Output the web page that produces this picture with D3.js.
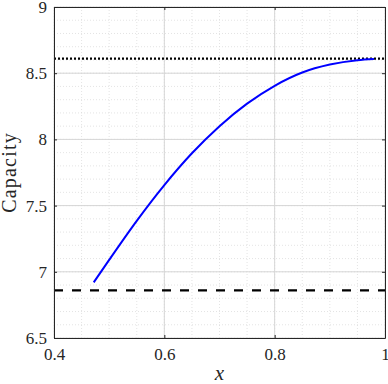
<!DOCTYPE html>
<html>
<head>
<meta charset="utf-8">
<script src="https://cdn.jsdelivr.net/npm/d3@7"></script>
<style>
    body { margin: 0; background: #fff; }
    #chart { width: 388px; height: 384px; }
    .tick text { font-family: "Liberation Serif", serif; font-size: 17px; fill: #262626; }
    .lbl { font-family: "Liberation Serif", serif; fill: #262626; }
</style>
</head>
<body>
<div id="chart"></div>
<script>
// values
const xValues  = [0.472, 0.5, 0.55, 0.6, 0.65, 0.7, 0.75, 0.8, 0.85, 0.9, 0.95, 0.98];
const capacity = [6.92, 7.09, 7.385, 7.655, 7.895, 8.10, 8.27, 8.405, 8.505, 8.565, 8.598, 8.607];
const upperBound = 8.61;   // dotted
const lowerBound = 6.86;   // dashed
const xTicks = [0.4, 0.6, 0.8, 1];
const yTicks = [6.5, 7, 7.5, 8, 8.5, 9];
const xMinor = d3.range(0.4, 1.0001, 0.05);
const yMinor = d3.range(6.5, 9.0001, 0.1);

const w = 388, h = 384;
const margin = { top: 7, right: 3, bottom: 46, left: 54 };

const svg = d3.select("#chart").append("svg")
    .attr("width", w)
    .attr("height", h);

const x = d3.scaleLinear().domain([0.4, 1]).range([margin.left, w - margin.right]);
const y = d3.scaleLinear().domain([6.5, 9]).range([h - margin.bottom, margin.top]);

const fmt = d3.format("~g");

// GRID - minor dotted
const grid = svg.append("g");
grid.selectAll(".xminor").data(xMinor).enter().append("line")
    .attr("x1", d => x(d)).attr("x2", d => x(d))
    .attr("y1", y(6.5)).attr("y2", y(9))
    .style("stroke", "#d9d9d9").style("stroke-width", 0.7)
    .style("stroke-dasharray", "1,2");
grid.selectAll(".yminor").data(yMinor).enter().append("line")
    .attr("y1", d => y(d)).attr("y2", d => y(d))
    .attr("x1", x(0.4)).attr("x2", x(1))
    .style("stroke", "#d9d9d9").style("stroke-width", 0.7)
    .style("stroke-dasharray", "1,2");

// GRID - major
grid.selectAll(".xmajor").data(xTicks).enter().append("line")
    .attr("x1", d => x(d)).attr("x2", d => x(d))
    .attr("y1", y(6.5)).attr("y2", y(9))
    .style("stroke", "#d6d6d6").style("stroke-width", 1);
grid.selectAll(".ymajor").data(yTicks).enter().append("line")
    .attr("y1", d => y(d)).attr("y2", d => y(d))
    .attr("x1", x(0.4)).attr("x2", x(1))
    .style("stroke", "#d6d6d6").style("stroke-width", 1);

// BOUNDS
svg.append("line")
    .attr("x1", x(0.4)).attr("x2", x(1))
    .attr("y1", y(upperBound)).attr("y2", y(upperBound))
    .style("stroke", "#000").style("stroke-width", 2.2)
    .style("stroke-dasharray", "2,2");
svg.append("line")
    .attr("x1", x(0.4)).attr("x2", x(1))
    .attr("y1", y(lowerBound)).attr("y2", y(lowerBound))
    .style("stroke", "#000").style("stroke-width", 2.2)
    .style("stroke-dasharray", "9,9");

// CURVE
const line = d3.line()
    .x((d, i) => x(xValues[i]))
    .y(d => y(d))
    .curve(d3.curveMonotoneX);
svg.append("path")
    .datum(capacity)
    .attr("d", line)
    .style("fill", "none")
    .style("stroke", "#0000ff")
    .style("stroke-width", 2);

// AXES (ticks inside, box on)
const axisColor = "#262626";
const xAxis = svg.append("g")
    .attr("transform", "translate(0," + y(6.5) + ")")
    .call(d3.axisBottom(x).tickValues(xTicks).tickFormat(fmt).tickSizeInner(-3).tickSizeOuter(0).tickPadding(10));
const yAxis = svg.append("g")
    .attr("transform", "translate(" + x(0.4) + ",0)")
    .call(d3.axisLeft(y).tickValues(yTicks).tickFormat(fmt).tickSizeInner(-3).tickSizeOuter(0).tickPadding(7));
const xTop = svg.append("g")
    .attr("transform", "translate(0," + y(9) + ")")
    .call(d3.axisTop(x).tickValues(xTicks).tickFormat("").tickSizeInner(-3).tickSizeOuter(0));
const yRight = svg.append("g")
    .attr("transform", "translate(" + x(1) + ",0)")
    .call(d3.axisRight(y).tickValues(yTicks).tickFormat("").tickSizeInner(-3).tickSizeOuter(0));

[xAxis, yAxis, xTop, yRight].forEach(a => {
    a.select(".domain").style("stroke", axisColor).style("stroke-width", 1);
    a.selectAll(".tick line").style("stroke", axisColor);
});

// AXES LABELS
svg.append("text")
    .attr("class", "lbl")
    .text("x")
    .style("font-style", "italic")
    .style("font-size", "21px")
    .style("text-anchor", "middle")
    .attr("x", (x(0.4) + x(1)) / 2)
    .attr("y", 380);

svg.append("text")
    .attr("class", "lbl")
    .text("Capacity")
    .style("font-size", "20px")
    .style("letter-spacing", "1.2px")
    .style("text-anchor", "middle")
    .attr("transform", "translate(16," + (y(6.5) + y(9)) / 2 + ") rotate(-90)");
</script>
</body>
</html>
